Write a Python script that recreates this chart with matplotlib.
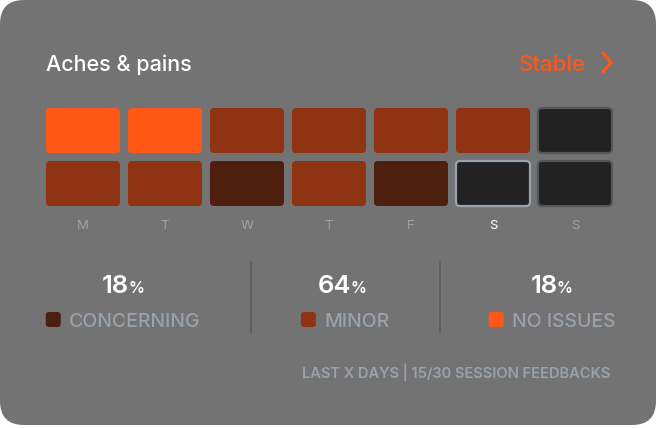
"""Aches & pains 周报卡片：两行七列的状态格子 + 百分比汇总。"""

import matplotlib

matplotlib.use("Agg")
import matplotlib.pyplot as plt
from matplotlib.patches import FancyBboxPatch

plt.rcParams["font.family"] = ["Inter", "DejaVu Sans"]

# =========================
# 数据
# =========================
days = ["M", "T", "W", "T", "F", "S", "S"]
# 0 = 没数据, 1 = concerning, 2 = minor, 3 = no issues
row_top = [3, 3, 2, 2, 2, 2, 0]
row_bottom = [2, 2, 1, 2, 1, 0, 0]
selected_day = 5  # 周六高亮

stat_labels = ["CONCERNING", "MINOR", "NO ISSUES"]
stat_percents = [18, 64, 18]

title = "Aches & pains"
trend = "Stable"
footer = "LAST X DAYS | 15/30 SESSION FEEDBACKS"

# =========================
# 样式
# =========================
BG = "#737373"
LEVEL_COLORS = {0: "#222222", 1: "#4e1f0f", 2: "#8f3312", 3: "#fe5716"}
STAT_COLORS = [LEVEL_COLORS[1], LEVEL_COLORS[2], LEVEL_COLORS[3]]
ORANGE = "#fe5716"
MUTED = "#9aa2ab"

W, H = 659, 428
CELL_X0, CELL_Y0 = 46, 108
CELL_W, CELL_H = 74, 45
STEP_X, STEP_Y = 82, 53


def cell(ax, col, row, level, highlight=False):
    x = CELL_X0 + col * STEP_X
    y = CELL_Y0 + row * STEP_Y
    if level == 0:
        ec = "#9aa2ab" if highlight else "#53575b"
        lw = 1.6
    else:
        ec = "none"
        lw = 0
    ax.add_patch(FancyBboxPatch(
        (x, y), CELL_W, CELL_H,
        boxstyle="round,pad=0,rounding_size=4",
        fc=LEVEL_COLORS[level], ec=ec, lw=lw,
    ))


def main():
    fig = plt.figure(figsize=(W / 100, H / 100), dpi=100)
    fig.patch.set_facecolor("white")
    ax = fig.add_axes([0, 0, 1, 1])
    ax.set_xlim(0, W)
    ax.set_ylim(H, 0)
    ax.axis("off")

    # 卡片底
    ax.add_patch(FancyBboxPatch(
        (0, 0), 656, 425, boxstyle="round,pad=0,rounding_size=24",
        fc=BG, ec="none",
    ))

    ax.text(46, 71, title, color="white", fontsize=15.5, fontweight="medium",
            ha="left", va="baseline")
    ax.text(586, 71, trend, color=ORANGE, fontsize=16, fontweight="medium",
            ha="right", va="baseline")
    ax.plot([603, 611, 603], [53, 62.5, 72], color=ORANGE, lw=2.4,
            solid_capstyle="round", solid_joinstyle="miter")

    for col in range(len(days)):
        cell(ax, col, 0, row_top[col])
        cell(ax, col, 1, row_bottom[col], highlight=(col == selected_day))
        ax.text(CELL_X0 + col * STEP_X + CELL_W / 2, 229, days[col],
                color="white" if col == selected_day else MUTED,
                fontsize=9.5, ha="center", va="baseline")

    # 汇总三栏
    centers = [123, 345, 552]
    for i, (lab, pct) in enumerate(zip(stat_labels, stat_percents)):
        cx = centers[i]
        ax.text(cx + 6, 293, str(pct), color="white", fontsize=18.5,
                fontweight="semibold", ha="right", va="baseline")
        ax.text(cx + 5, 293, "%", color="white", fontsize=11.5,
                fontweight="semibold", ha="left", va="baseline")

        lab_t = ax.text(0, 327, lab, color=MUTED, fontsize=14,
                        fontweight="medium", ha="left", va="baseline")
        fig.canvas.draw()
        r = fig.canvas.get_renderer()
        lab_w = lab_t.get_window_extent(r).width
        total = 15 + 8 + lab_w
        x0 = cx - total / 2
        ax.add_patch(FancyBboxPatch(
            (x0, 312), 15, 15, boxstyle="round,pad=0,rounding_size=3",
            fc=STAT_COLORS[i], ec="none",
        ))
        lab_t.set_x(x0 + 23)

    for x in [251, 440]:
        ax.plot([x, x], [262, 332], color="#5c5c5c", lw=1.2)

    ax.text(610, 378, footer, color=MUTED, fontsize=10.5, fontweight="semibold",
            ha="right", va="baseline")

    fig.savefig("out.png", dpi=100, facecolor="white")


if __name__ == "__main__":
    main()
